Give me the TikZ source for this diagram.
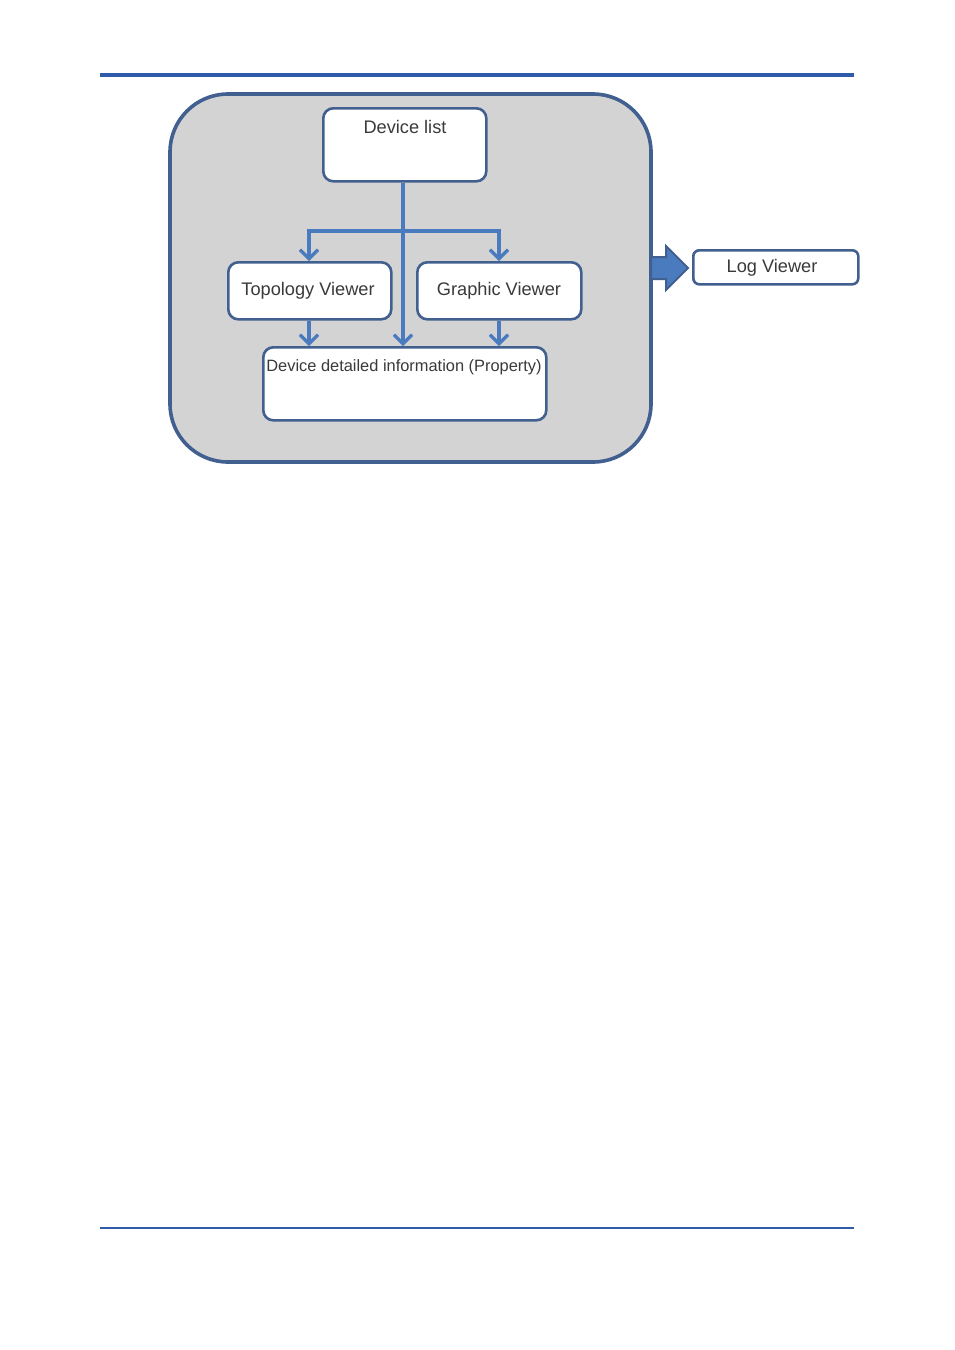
\documentclass[tikz,border=0pt]{standalone}
\usepackage{fontspec}
\setmainfont{Liberation Sans}
\usetikzlibrary{arrows.meta,shapes.arrows}
\definecolor{rule}{HTML}{2F5BAA}
\definecolor{frame}{HTML}{41608F}
\definecolor{conn}{HTML}{4A7BBF}
\definecolor{bigfill}{HTML}{D3D3D3}
\definecolor{txt}{HTML}{3A3A3A}
\tikzset{
  box/.style={draw=frame, line width=2.6pt, fill=white, rounded corners=10pt},
  lbl/.style={font=\fontsize{18.2}{21}\selectfont, text=txt, inner sep=0pt},
  conarrow/.style={draw=conn, line width=3.6pt, -{Straight Barb[length=9pt,width=18pt,line width=3.2pt]}},
}
\begin{document}
\begin{tikzpicture}[x=1pt,y=-1pt]
\useasboundingbox (0,0) rectangle (954,1350);
% page rules
\draw[rule, line width=3.2pt] (100,75) coordinate (r1a) -- (854,75) coordinate (r1b);
\draw[rule, line width=2.6pt] (100,1228) coordinate (r2a) -- (854,1228) coordinate (r2b);
% big container
\draw[frame, fill=bigfill, line width=3.6pt, rounded corners=58pt] (170,94) rectangle (651,462);
% boxes
\node[box, minimum width=163pt, minimum height=73pt, anchor=north west] (dl) at (322,107) {};
\node[lbl, anchor=north] at (405,120) {Device list};
\node[box, minimum width=163pt, minimum height=57pt, anchor=north west] (tv) at (227,261) {};
\node[lbl] at (308,291) {Topology Viewer};
\node[box, minimum width=164pt, minimum height=57pt, anchor=north west] (gv) at (416,261) {};
\node[lbl] at (499,291) {Graphic Viewer};
\node[box, minimum width=283pt, minimum height=73pt, anchor=north west] (dd) at (262,346) {};
\node[lbl, font=\fontsize{16.4}{20}\selectfont, anchor=north] at (404,359) {Device detailed information (Property)};
\node[box, rounded corners=6pt, minimum width=165pt, minimum height=34pt, anchor=north west] (lv) at (692,249) {};
\node[lbl] at (772,268) {Log Viewer};
% connectors
\coordinate (split) at (403,231);
\draw[conarrow] (dl.south -| split) -- (dd.north -| split);
\draw[conarrow] (split) -| (tv.north -| 309,0);
\draw[conarrow] (split) -| (gv.north -| 499,0);
\draw[conarrow] (tv.south -| 309,0) -- (dd.north -| 309,0);
\draw[conarrow] (gv.south -| 499,0) -- (dd.north -| 499,0);
% block arrow to Log Viewer
\draw[frame, fill=conn, line width=2pt, line join=miter]
  (651,257) -- (666,257) -- (666,246) -- (688,268) -- (666,290) -- (666,279) -- (651,279) -- cycle;
\end{tikzpicture}
\end{document}
